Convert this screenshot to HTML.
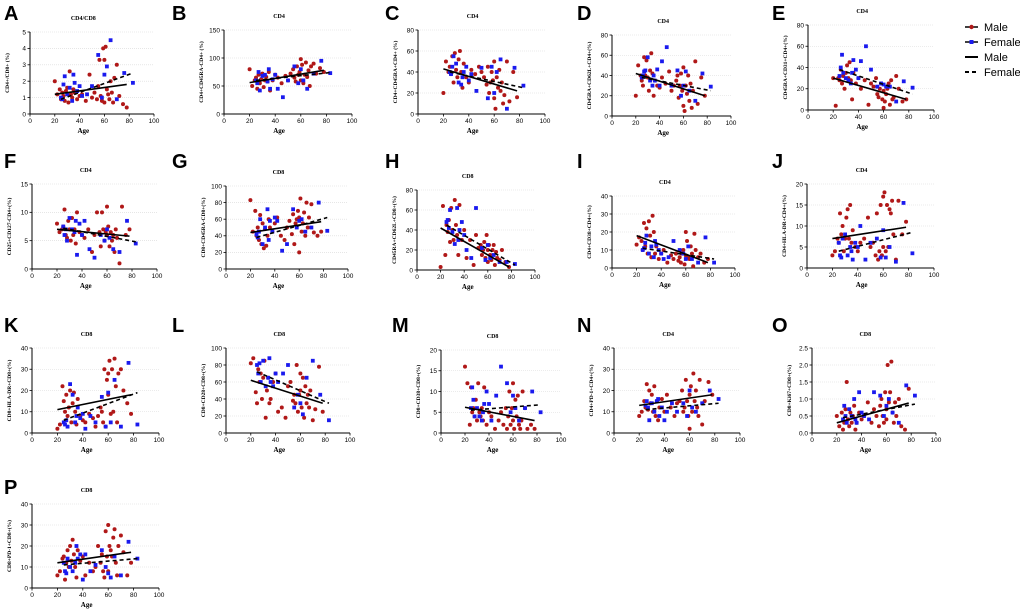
<!DOCTYPE html>
<html><head><meta charset="utf-8"><style>
html,body{margin:0;padding:0;background:#fff;}
svg{display:block;font-family:"Liberation Sans",sans-serif;}
.ser{font-family:"Liberation Serif",serif;font-weight:bold;}
</style></head><body>
<svg id="fig" width="1020" height="612" viewBox="0 0 1020 612">
<g>
 <line x1="965" y1="27" x2="978" y2="27" stroke="#000" stroke-width="1.5"/><circle cx="971.5" cy="27" r="2.2" fill="#b01818"/>
 <text x="984" y="31" font-size="11">Male</text>
 <line x1="965" y1="42" x2="978" y2="42" stroke="#000" stroke-width="1.5"/><rect x="969.5" y="40" width="4" height="4" fill="#1a1aee"/>
 <text x="984" y="46" font-size="11">Female</text>
 <line x1="965" y1="57" x2="978" y2="57" stroke="#000" stroke-width="2"/>
 <text x="984" y="61" font-size="11">Male</text>
 <line x1="965" y1="72" x2="978" y2="72" stroke="#000" stroke-width="2" stroke-dasharray="4,3"/>
 <text x="984" y="76" font-size="11">Female</text>
</g>
</svg>
<script>
const maleAge=[20,22,24,25,26,27,28,29,30,31,32,33,34,35,36,38,40,42,45,48,50,52,54,55,56,57,58,59,60,60,61,62,63,64,65,66,67,68,70,72,75,78];
const femaleAge=[25,26,27,28,30,32,34,35,36,38,40,42,46,50,55,58,60,62,65,70,76,83];
const panelLetters=["A","B","C","D","E","F","G","H","I","J","K","L","M","N","O","P"];
const panelTitles=["CD4/CD8","CD4","CD4","CD4","CD4","CD4","CD8","CD8","CD4","CD4","CD8","CD8","CD8","CD4","CD8","CD8"];
const yLabels=["CD4+/CD8+ (%)","CD4+CD45RA-CD4+ (%)","CD4+CD45RA+CD4+ (%)","CD45RA+CD62L+CD4+(%)","CD45RA+CD31+CD4+(%)","CD25+CD127-CD4+(%)","CD8+CD45RA-CD8+(%)","CD45RA+CD62L+CD8+(%)","CD4+CD38+CD4+(%)","CD4+HLA-DR+CD4+(%)","CD8+HLA-DR+CD8+(%)","CD8+CD28+CD8+(%)","CD8+CD38+CD8+(%)","CD4+PD-1+CD4+(%)","CD8+Ki67+CD8+(%)","CD8+PD-1+CD8+(%)"];
const yMax=[5,150,80,80,80,15,100,80,40,20,40,100,20,40,2.5,40];
const yStep=[1,50,20,20,20,5,20,20,10,5,10,20,5,10,0.5,10];
const xTicks=[0,20,40,60,80,100];
const maleVals=[
[2,1.2,1.5,0.9,1.3,1.1,0.8,1.4,1.6,0.7,2.6,1.2,1.0,1.5,1.3,0.9,1.1,1.2,0.8,2.4,1.0,1.3,0.9,1.7,3.3,1.1,0.8,4.0,3.3,0.7,4.1,1.5,1.2,0.9,2.0,1.3,0.7,2.2,3.0,1.1,0.6,0.4],
[80,50,60,65,45,70,55,62,72,48,60,66,58,75,42,60,70,65,55,68,60,72,80,65,58,85,70,75,98,60,88,55,70,92,66,78,50,85,90,72,82,75],
[20,50,40,45,38,55,30,58,42,35,52,60,40,25,48,35,30,42,38,45,40,35,28,45,20,30,40,32,15,50,5,35,25,42,22,30,10,18,50,12,40,16],
[20,50,40,35,30,58,40,55,38,25,45,62,42,20,35,30,28,38,32,44,25,30,35,40,18,30,42,25,10,48,5,30,22,40,15,32,8,25,54,12,38,20],
[30,4,30,28,38,25,32,20,35,42,30,45,28,10,35,25,30,20,28,5,25,22,30,15,12,20,25,10,2,18,8,15,20,25,5,28,10,12,32,20,8,10],
[8,6.5,7,7.5,10.5,6,5.5,8.5,7,5,9,6,7,4.5,10,6.5,6,5.5,7,3,6,10,6.5,4,10,7,5,6.5,11,6,7.5,4,6.5,5,6,3,7,5.5,1,11,6,7],
[83,45,70,40,50,35,65,30,55,25,48,28,40,60,50,45,55,62,40,35,50,58,42,66,30,55,60,70,62,20,85,45,55,68,40,80,50,62,78,44,40,45],
[3,64,15,45,38,50,28,62,40,30,70,45,35,15,65,30,40,12,30,5,35,22,25,15,20,28,12,35,20,8,25,15,10,20,25,5,18,12,10,20,8,3],
[13,17,15,10,25,12,22,8,26,18,6,29,20,8,12,5,8,10,3,7,5,8,4,6,3,8,10,2,20,7,15,6,5,12,8,1,19,10,6,8,3,5],
[3,4,7,6,13,8,10,4,7,12,14,7,15,6,9,5,4,6,7,12,5,6,3,13,2,4,15,3,17,5,18,4,15,5,14,13,16,8,2,16,8,11],
[2,4,22,15,10,18,8,12,20,5,14,19,10,4,16,8,6,5,9,7,3,8,12,10,5,30,3,25,18,28,34,9,30,10,35,22,5,28,30,20,14,9],
[82,88,48,35,75,60,70,40,65,85,18,50,65,35,40,60,70,25,30,18,55,60,38,45,35,80,25,45,50,70,30,65,18,55,35,45,30,50,15,28,78,25],
[16,12,2,11,5,6,4,8,3,12,5,4,6,3,11,2,5,4,1,3,5,2,6,1,4,10,2,6,12,3,1,8,4,9,2,1,3,10,6,1,2,1],
[8,10,15,12,23,11,20,14,18,10,22,8,15,6,12,16,10,18,12,8,14,15,20,10,12,25,15,8,2,18,22,10,28,15,20,12,8,25,4,15,24,18],
[0.5,0.2,0.6,0.1,0.3,0.7,1.5,0.4,0.2,0.6,0.3,0.5,0.8,0.1,0.3,0.6,0.4,0.5,0.9,0.3,0.7,0.5,0.2,0.8,1.0,0.5,0.3,1.2,0.4,0.7,2.0,0.9,1.2,2.1,0.6,0.3,0.9,0.5,1.0,0.2,0.1,1.3],
[6,8,14,15,4,12,18,10,20,13,23,16,10,5,18,13,15,6,12,8,10,20,12,16,8,5,27,15,30,8,20,18,15,24,28,12,6,20,25,17,6,12]];
const femaleVals=[
[1.0,0.9,1.8,2.3,1.2,1.6,0.8,2.4,1.9,1.4,1.7,1.1,1.2,1.7,3.6,1.0,2.4,2.9,4.5,0.9,2.5,1.9],
[60,55,75,42,68,70,58,80,45,62,70,45,30,60,85,55,80,60,45,72,95,73],
[40,38,45,55,48,30,28,35,40,45,32,38,22,44,15,45,20,40,52,5,44,27],
[38,40,44,45,58,35,30,40,35,46,30,54,68,30,45,20,30,44,25,15,42,29],
[32,40,52,35,30,28,25,35,47,38,30,46,60,38,22,25,24,22,22,8,27,21],
[7.5,6,7,5,9,7,6.5,8.5,2.5,8,6,8.5,3.5,2,6,5,7,5.5,3.5,3,8.5,4.5],
[42,38,45,60,30,50,72,35,58,45,62,58,22,30,72,50,58,60,45,50,80,46],
[48,50,42,60,38,26,62,30,40,48,35,20,12,62,22,10,25,12,15,8,8,6],
[10,11,14,18,8,12,6,15,13,10,8,5,6,15,10,8,5,12,5,3,17,3],
[6,3,2.5,7,8,3,5,4,2,6,5,10,2,6,7,2.5,9,2.5,5,1.5,15.5,3.5],
[5,4,6,3,23,18,5,8,12,7,9,2,8,5,17,3,19,5,25,3,33,4],
[80,70,82,60,85,55,65,88,60,55,70,60,70,80,30,45,35,22,65,85,45,15],
[6,11,8,4,6,4,3,5,7,10,7,3,9,16,12,5,9,6,3,6,10,5],
[13,15,12,6,14,10,15,16,8,12,6,10,14,10,14,8,20,12,10,14,20,16],
[0.4,0.8,0.5,0.3,0.7,0.5,1.0,0.4,0.3,1.2,0.6,0.5,0.4,1.2,1.1,0.5,0.8,1.0,0.6,0.3,1.4,1.1],
[12,8,7,14,10,8,12,20,14,16,4,16,8,11,18,10,7,5,15,6,22,14]];
const maleFitStart=[1.2,56,43,42,30,7,44,42,18,7,11,62,6.2,13,0.3,12];
const maleFitEnd=[1.8,78,22,20,10,5.8,57,3,3,9.7,18,35,3,18,0.88,17];
const femaleFitStart=[0.9,60,40,38,38,7.2,38,45,11,4,6,72,5.5,11,0.45,11];
const femaleFitEnd=[2.5,74,25,25,15,4.8,62,5,5,8.5,19,35,6.8,14,0.85,14];

const geo=[[30,32,114,124],[224,30,114,128],[418,30,114,127],[612,35,116,119],[808,25,110,126],
[32,184,269,125],[226,186,269,122],[417,190,270,118],[612,196,268,123],[807,184,268,127],
[32,348,433,127],[226,348,433,124],[441,350,433,120],[614,348,433,126],[812,348,433,124],
[32,504,588,127]];
const letterX=[4,172,385,577,772];
const letterY=[20,168,332,494];
const NS="http://www.w3.org/2000/svg";
const svg=document.getElementById('fig');
function mk(tag,attrs,parent){const e=document.createElementNS(NS,tag);for(const k in attrs)e.setAttribute(k,attrs[k]);parent.appendChild(e);return e;}
panelLetters.forEach((L,i)=>{
 const [x0,top,bot,w]=geo[i];
 const g=mk('g',{},svg);
 
 
 const xs=v=>x0+v/100*w;
 const ys=v=>bot-v/yMax[i]*(bot-top);
 const lx=(L==="M")?392:letterX[i%5];
 const lt=mk('text',{x:lx,y:letterY[Math.floor(i/5)],'font-size':20,'font-weight':'bold'},g);lt.textContent=L;
 
 
 const tt=mk('text',{x:x0+w*0.43,y:top-12,'font-size':6,'text-anchor':'middle',class:'ser'},g);tt.textContent=panelTitles[i];
 
 
 const n=Math.round(yMax[i]/yStep[i]);
 for(let k=0;k<=n;k++){const v=k*yStep[i];const y=ys(v);
  if(k>0) mk('line',{x1:x0,x2:x0+w,y1:y,y2:y,stroke:'#d8d8d8','stroke-width':0.6,'stroke-dasharray':'1,1'},g);
  mk('line',{x1:x0-2.5,x2:x0,y1:y,y2:y,stroke:'#000','stroke-width':0.8},g);
  const t=mk('text',{x:x0-4,y:y+2.3,'font-size':6.5,'text-anchor':'end'},g);
  t.textContent=(yStep[i]<1?v.toFixed(1):v);
  
  
 }
 xTicks.forEach(v=>{const x=xs(v);
  mk('line',{x1:x,x2:x,y1:bot,y2:bot+2.5,stroke:'#000','stroke-width':0.8},g);
  const t=mk('text',{x:x,y:bot+9,'font-size':6.5,'text-anchor':'middle'},g);t.textContent=v;
  
  
 });
 mk('line',{x1:x0,x2:x0,y1:top,y2:bot,stroke:'#000','stroke-width':1},g);
 mk('line',{x1:x0,x2:x0+w,y1:bot,y2:bot,stroke:'#000','stroke-width':1},g);
 const xa=mk('text',{x:x0+w*0.43,y:bot+19,'font-size':7,'text-anchor':'middle',class:'ser'},g);xa.textContent='Age';
 
 
 const ycx=x0-21,ycy=(top+bot)/2;
 const ya=mk('text',{x:ycx,y:ycy,'font-size':5.5,'text-anchor':'middle',class:'ser',transform:`rotate(-90 ${ycx} ${ycy})`},g);ya.textContent=yLabels[i];
 
 
 maleAge.forEach((a,j)=>{const c=mk('circle',{cx:xs(a),cy:ys(maleVals[i][j]),r:2,fill:'#b01818'},g);
  
  });
 femaleAge.forEach((a,j)=>{const r=mk('rect',{x:xs(a)-1.9,y:ys(femaleVals[i][j])-1.9,width:3.8,height:3.8,fill:'#1a1aee'},g);
  
  });
 const ml=mk('line',{x1:xs(20),y1:ys(maleFitStart[i]),x2:xs(78),y2:ys(maleFitEnd[i]),stroke:'#000','stroke-width':1.6},g);
 
 
 const fl=mk('line',{x1:xs(25),y1:ys(femaleFitStart[i]),x2:xs(83),y2:ys(femaleFitEnd[i]),stroke:'#000','stroke-width':1.6,'stroke-dasharray':'4,3'},g);
 
 
});
</script>
</body></html>
